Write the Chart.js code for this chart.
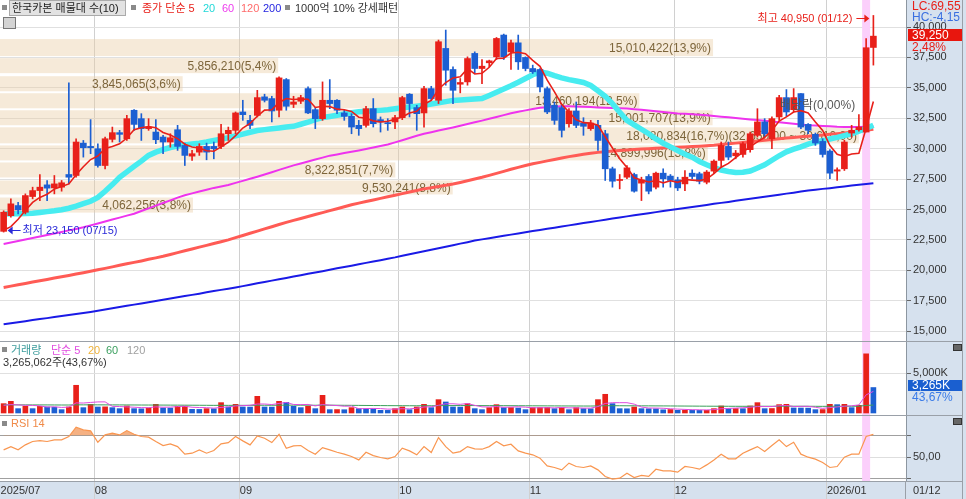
<!DOCTYPE html>
<html lang="ko">
<head>
<meta charset="utf-8">
<title>한국카본 일봉</title>
<script src="https://cdn.jsdelivr.net/npm/chart.js@4.4.1/dist/chart.umd.min.js"></script>
<style>
  html, body { margin: 0; padding: 0; }
  body { width: 966px; height: 499px; overflow: hidden; position: relative; background: #d6e1ee;
         font-family: "Liberation Sans", "Noto Sans CJK KR", sans-serif; }
  canvas { position: absolute; left: 0; }
  .t { position: absolute; white-space: nowrap; font-size: 11px; line-height: 12px; }
  .sq { position: absolute; width: 5px; height: 5px; background: #8a8a8a; }
  .hr { position: absolute; left: 0; width: 963px; height: 1px; background: #9aa0a8; }
  .ico { position: absolute; width: 7px; height: 5px; background: #666; border: 1px solid #333; }
</style>
</head>
<body>
<canvas id="price" width="966" height="341" style="top:0"></canvas>
<canvas id="vol" width="966" height="74" style="top:341px"></canvas>
<canvas id="rsi" width="966" height="84" style="top:415px"></canvas>

<div class="hr" style="top:341px"></div>
<div class="hr" style="top:415px"></div>
<div class="hr" style="top:481px"></div>
<div style="position:absolute;left:962px;top:0;width:1px;height:499px;background:#9aa0a8"></div>

<!-- price legend -->
<div class="sq" style="left:2px;top:5px"></div>
<div class="t" style="left:9px;top:0;width:113px;height:14px;line-height:14px;padding-left:2px;background:#e2e2e2;border:1px solid #aaa;color:#222">한국카본 매물대 수(10)</div>
<div class="sq" style="left:131px;top:5px"></div>
<div class="t" style="left:142px;top:2px;color:#e8201a">종가 단순 5</div>
<div class="t" style="left:203px;top:2px;color:#22d8d8">20</div>
<div class="t" style="left:222px;top:2px;color:#ee3cee">60</div>
<div class="t" style="left:241px;top:2px;color:#ff6a6a">120</div>
<div class="t" style="left:263px;top:2px;color:#2525e0">200</div>
<div class="sq" style="left:285px;top:5px"></div>
<div class="t" style="left:295px;top:2px;color:#333">1000억 10% 강세패턴</div>
<div style="position:absolute;left:3px;top:17px;width:11px;height:10px;border:1px solid #777;background:#d4d4d4"></div>
<div class="t" style="left:780px;top:99px;font-size:12px;color:#555">배당락(0,00%)</div>

<!-- volume legend -->
<div class="sq" style="left:2px;top:347px"></div>
<div class="t" style="left:11px;top:344px;color:#3c9c9c">거래량</div>
<div class="t" style="left:51px;top:344px;color:#e04ce0">단순 5</div>
<div class="t" style="left:88px;top:344px;color:#f0b43c">20</div>
<div class="t" style="left:106px;top:344px;color:#3ca060">60</div>
<div class="t" style="left:127px;top:344px;color:#a0a0a0">120</div>
<div class="t" style="left:3px;top:356px;color:#333">3,265,062주(<span id="volPct1"></span>%)</div>

<!-- rsi legend -->
<div class="sq" style="left:2px;top:421px"></div>
<div class="t" style="left:11px;top:417px;color:#f08a48">RSI 14</div>

<!-- right axis notes -->
<div class="t" style="left:912px;top:0;font-size:12px;color:#e8201a">LC:69,55</div>
<div class="t" style="left:912px;top:11px;font-size:12px;color:#3a6fe0">HC:-4,15</div>
<div class="t" id="lastPrice" style="left:908px;top:29px;width:50px;height:12px;padding-left:4px;font-size:12px;background:#e8160e;color:#fff"></div>
<div class="t" id="lastChg" style="left:912px;top:41px;font-size:12px;color:#e8201a"></div>
<div class="t" id="lastVol" style="left:908px;top:380px;width:50px;height:11px;line-height:11px;padding-left:4px;font-size:12px;background:#1a5fd0;color:#fff"></div>
<div class="t" id="volPct2" style="left:912px;top:391px;font-size:12px;color:#3a7be8"></div>
<div class="t" style="left:913px;top:484px;color:#333">01/12</div>
<div style="position:absolute;left:905px;top:481px;width:1px;height:18px;background:#9aa0a8"></div>
<div class="ico" style="left:953px;top:344px"></div>
<div class="ico" style="left:953px;top:418px"></div>

<script>
// --- Data ---
const dates = [
  '2025/07/15','2025/07/16','2025/07/17','2025/07/18','2025/07/21','2025/07/22','2025/07/23','2025/07/24','2025/07/25','2025/07/28','2025/07/29','2025/07/30','2025/07/31',
  '2025/08/01','2025/08/04','2025/08/05','2025/08/06','2025/08/07','2025/08/08','2025/08/11','2025/08/12','2025/08/13','2025/08/14','2025/08/18','2025/08/19','2025/08/20','2025/08/21','2025/08/22','2025/08/25','2025/08/26','2025/08/27','2025/08/28','2025/08/29',
  '2025/09/01','2025/09/02','2025/09/03','2025/09/04','2025/09/05','2025/09/08','2025/09/09','2025/09/10','2025/09/11','2025/09/12','2025/09/15','2025/09/16','2025/09/17','2025/09/18','2025/09/19','2025/09/22','2025/09/23','2025/09/24','2025/09/25','2025/09/26','2025/09/29','2025/09/30',
  '2025/10/01','2025/10/02','2025/10/10','2025/10/13','2025/10/14','2025/10/15','2025/10/16','2025/10/17','2025/10/20','2025/10/21','2025/10/22','2025/10/23','2025/10/24','2025/10/27','2025/10/28','2025/10/29','2025/10/30','2025/10/31',
  '2025/11/03','2025/11/04','2025/11/05','2025/11/06','2025/11/07','2025/11/10','2025/11/11','2025/11/12','2025/11/13','2025/11/14','2025/11/17','2025/11/18','2025/11/19','2025/11/20','2025/11/21','2025/11/24','2025/11/25','2025/11/26','2025/11/27','2025/11/28',
  '2025/12/01','2025/12/02','2025/12/03','2025/12/04','2025/12/05','2025/12/08','2025/12/09','2025/12/10','2025/12/11','2025/12/12','2025/12/15','2025/12/16','2025/12/17','2025/12/18','2025/12/19','2025/12/22','2025/12/23','2025/12/24','2025/12/26','2025/12/29','2025/12/30',
  '2026/01/02','2026/01/05','2026/01/06','2026/01/07','2026/01/08','2026/01/09','2026/01/12'
];

const open = [
  23210, 24500, 25330, 24780, 26070, 26560, 27030, 26780, 26840, 27880,
  27800, 30460, 30190, 30000, 28620, 30770, 31320, 30820, 33160, 32470,
  31650, 31370, 30960, 30550, 31560, 30270, 29390, 29720, 30190, 30190,
  30190, 31230, 31510, 33020, 32330, 32740, 34260, 34120, 33160, 35680,
  33650, 33900, 34940, 33210, 32470, 33980, 33980, 32940, 32660, 31920,
  31920, 33290, 32390, 32140, 32200, 32550, 34480, 33380, 32940, 34940,
  33980, 38240, 36510, 35300, 35490, 37830, 36590, 37060, 37550, 39340,
  37960, 38700, 37500, 36590, 36510, 34940, 33570, 33380, 32060, 33100,
  32110, 31650, 31920, 31230, 28350, 27390, 27660, 27880, 27170, 27720,
  26840, 27990, 27750, 27440, 27110, 27990, 27940, 27250, 28160, 29040,
  30190, 29420, 29530, 29920, 31100, 32200, 30820, 32610, 34200, 33210,
  34530, 32000, 31180, 30600, 29810, 28160, 28350, 31290, 31560, 31370,
  38320
];
const high = [
  24900, 25880, 25600, 26290, 26840, 27880, 27390, 27800, 27390, 35410,
  30820, 30680, 32390, 30410, 30960, 31780, 31510, 32740, 33210, 32880,
  32470, 32390, 31100, 31230, 31920, 30460, 29860, 30410, 30460, 30550,
  32000, 31780, 33020, 33980, 32740, 34800, 34480, 34310, 35900, 35770,
  34310, 34390, 35080, 33380, 35490, 35680, 34040, 33160, 32880, 32330,
  33490, 34120, 32610, 32470, 32740, 34310, 34530, 33570, 35130, 35130,
  38930, 39750, 36730, 35770, 37550, 37960, 37330, 37280, 39140, 39420,
  38930, 39340, 37550, 36870, 36590, 35080, 33840, 33570, 33290, 33840,
  32550, 32330, 32330, 31510, 28490, 27880, 28620, 27990, 27660, 27880,
  28070, 28350, 27880, 27660, 28210, 28270, 28070, 28210, 29090, 30550,
  30550, 29860, 30550, 31370, 33290, 32470, 32610, 34390, 34860, 34940,
  34530, 32060, 31290, 30820, 29920, 28430, 30690, 31920, 32800, 39060,
  40950
];
const low = [
  23150, 24370, 24640, 24640, 25880, 25740, 25740, 26290, 26510, 27110,
  27660, 29310, 29590, 28490, 28350, 30550, 30550, 30680, 31510, 30680,
  31510, 30410, 29590, 30130, 29860, 28620, 29040, 29450, 29090, 29170,
  30000, 30680, 31230, 32330, 31650, 32610, 33840, 32200, 32610, 33160,
  33380, 33710, 32880, 31650, 32330, 33290, 32880, 32330, 31230, 31100,
  31780, 31780, 31370, 31510, 31650, 32390, 32610, 31510, 31780, 33980,
  33710, 35220, 33710, 34590, 35220, 36180, 35350, 36730, 37330, 37330,
  36510, 36510, 36400, 36180, 34670, 32880, 32000, 30960, 31780, 31730,
  31100, 31510, 29860, 27390, 26840, 26700, 27530, 26430, 25740, 26290,
  26700, 26840, 26840, 26560, 26560, 27530, 27110, 27110, 27940, 28490,
  29090, 29170, 29310, 29720, 30960, 30960, 30000, 32330, 32660, 33020,
  31650, 31230, 30270, 29310, 27530, 27390, 28210, 30960, 31450, 31370,
  36870
];
const close = [
  24780, 25470, 24970, 26150, 26560, 26840, 26760, 27110, 27200, 27660,
  30550, 30080, 30080, 28620, 30820, 31320, 31180, 32470, 32000, 31650,
  31780, 30740, 30550, 30900, 30190, 29450, 29590, 30190, 29720, 30000,
  31230, 31510, 32940, 32800, 31920, 34200, 33980, 33100, 35820, 33490,
  33840, 34200, 32940, 32470, 33980, 33710, 33160, 32660, 31780, 31650,
  33290, 32060, 32200, 32060, 32550, 34200, 33710, 32880, 34940, 34120,
  38790, 36450, 34800, 35440, 37410, 36590, 36780, 37220, 39060, 37550,
  38700, 37140, 36590, 36320, 35080, 33020, 32330, 31510, 33100, 31920,
  31840, 32110, 30680, 28350, 27330, 27440, 28430, 26510, 27440, 26510,
  27990, 27530, 27390, 26780, 27660, 27720, 27330, 28080, 28980, 30270,
  29310, 29640, 30410, 31230, 32200, 31230, 32470, 34200, 33020, 34200,
  31780, 31510, 30470, 29530, 27990, 28270, 30550, 31510, 31780, 38300,
  39250
];

// moving averages
const ma5 = [
  23300, 23600, 24200, 24930, 25590, 26000, 26260, 26680, 26890, 27110,
  27860, 28520, 29110, 29400, 30030, 30180, 30400, 30880, 31560, 31720,
  31820, 31730, 31340, 31120, 30830, 30370, 30140, 30060, 29830, 29790,
  30150, 30530, 31080, 31700, 32080, 32670, 33170, 33200, 33800, 34120,
  34050, 34090, 34060, 33390, 33490, 33460, 33250, 33200, 33060, 32590,
  32510, 32290, 32200, 32250, 32430, 32610, 32940, 33080, 33660, 33970,
  34890, 35440, 35820, 35920, 36580, 36140, 36200, 36690, 37410, 37440,
  37860, 37930, 37810, 37260, 36770, 35630, 34670, 33650, 33010, 32380,
  32140, 32100, 31930, 30980, 30060, 29180, 28450, 27610, 27430, 27270,
  27380, 27200, 27370, 27240, 27470, 27420, 27380, 27510, 27950, 28480,
  28790, 29260, 29720, 30170, 30560, 30940, 31510, 32270, 32620, 33020,
  33130, 32940, 32200, 31500, 30260, 29550, 29360, 29570, 29620, 31680,
  33880
];
const ma20 = [
  24640, 24650, 24660, 24680, 24700, 24760, 24830, 24900, 24990, 25110,
  25280, 25480, 25680, 26000, 26500, 27050, 27650, 28100, 28550, 28980,
  29450, 29720, 29920, 30100, 30220, 30310, 30390, 30460, 30560, 30680,
  30790, 30900, 31050, 31200, 31350, 31500, 31570, 31640, 31710, 31780,
  31840, 32010, 32190, 32380, 32560, 32650, 32750, 32850, 32960, 33030,
  33070, 33110, 33150, 33200, 33280, 33360, 33430, 33500, 33570, 33670,
  33770, 33870, 33970, 34010, 34040, 34080, 34130, 34380, 34640, 34900,
  35170, 35460, 35770, 36080, 36300, 36200, 36000, 35820, 35680, 35560,
  35440, 35200, 34760, 34300, 33700, 33000, 32330, 31960, 31600, 31230,
  30800, 30450, 30150, 29850, 29550, 29300, 28950, 28680, 28450, 28250,
  28130, 28040, 28060, 28170, 28420, 28680, 29050, 29420, 29740, 29960,
  30150, 30380, 30550, 30660, 30800, 30930, 31080, 31230, 31440, 31660,
  31920
];
const ma60 = [
  22170, 22290, 22410, 22540, 22660, 22790, 22910, 23040, 23160, 23290,
  23410, 23540, 23700, 23860, 24020, 24180, 24340, 24500, 24660, 24880,
  25100, 25320, 25540, 25760, 25980, 26180, 26330, 26480, 26630, 26780,
  26900, 27020, 27190, 27360, 27530, 27700, 27880, 28070, 28260, 28450,
  28630, 28790, 28950, 29110, 29270, 29430, 29530, 29640, 29750, 29860,
  29980, 30100, 30220, 30340, 30520, 30700, 30880, 31060, 31230, 31360,
  31490, 31620, 31750, 31890, 32030, 32170, 32310, 32460, 32610, 32760,
  32910, 33040, 33150, 33260, 33360, 33410, 33450, 33480, 33480, 33460,
  33440, 33420, 33390, 33370, 33350, 33320, 33300, 33250, 33200, 33140,
  33080, 33020, 32960, 32900, 32870, 32830, 32790, 32750, 32690, 32630,
  32580, 32520, 32470, 32410, 32350, 32290, 32230, 32170, 32110, 32050,
  31990, 31930, 31900, 31870, 31840, 31800, 31780, 31780, 31790, 31810,
  31840
];
const ma120 = [
  18600, 18710, 18820, 18930, 19040, 19150, 19260, 19370, 19480, 19590,
  19700, 19810, 19930, 20050, 20170, 20290, 20420, 20540, 20660, 20780,
  20910, 21030, 21160, 21310, 21460, 21610, 21760, 21910, 22060, 22210,
  22360, 22510, 22690, 22870, 23050, 23230, 23410, 23590, 23770, 23950,
  24110, 24270, 24430, 24590, 24750, 24910, 25070, 25230, 25390, 25530,
  25660, 25790, 25920, 26050, 26180, 26310, 26440, 26570, 26700, 26800,
  26900, 27000, 27100, 27230, 27370, 27510, 27650, 27810, 27970, 28140,
  28310, 28470, 28620, 28760, 28880, 29000, 29120, 29240, 29350, 29450,
  29540, 29620, 29700, 29760, 29820, 29860, 29900, 29940, 29970, 30000,
  30030, 30060, 30090, 30120, 30150, 30180, 30210, 30240, 30280, 30340,
  30400, 30460, 30520, 30580, 30640, 30700, 30760, 30820, 30880, 30930,
  30980, 31030, 31080, 31130, 31180, 31240, 31300, 31360, 31430, 31510,
  31590
];
const ma200 = [
  15580, 15660, 15750, 15830, 15920, 16000, 16080, 16170, 16250, 16340,
  16420, 16500, 16590, 16690, 16790, 16890, 16990, 17090, 17190, 17290,
  17390, 17490, 17590, 17690, 17790, 17890, 17990, 18090, 18200, 18300,
  18400, 18500, 18600, 18710, 18820, 18940, 19050, 19160, 19270, 19380,
  19500, 19610, 19720, 19830, 19940, 20060, 20170, 20280, 20390, 20510,
  20620, 20730, 20840, 20960, 21070, 21200, 21320, 21450, 21570, 21700,
  21820, 21950, 22070, 22200, 22320, 22450, 22550, 22640, 22740, 22840,
  22940, 23030, 23130, 23230, 23320, 23420, 23510, 23610, 23700, 23790,
  23890, 23980, 24070, 24160, 24260, 24350, 24440, 24530, 24610, 24700,
  24790, 24880, 24960, 25050, 25130, 25220, 25300, 25380, 25470, 25550,
  25630, 25720, 25800, 25880, 25970, 26050, 26140, 26220, 26310, 26390,
  26480, 26560, 26630, 26700, 26760, 26830, 26900, 26970, 27040, 27100,
  27170
];

// volume in thousand shares
const volume = [
  1250, 1540, 625, 917, 625, 917, 834, 800, 500, 834,
  3545, 750, 1168, 834, 850, 750, 625, 960, 625, 600,
  710, 1168, 710, 700, 917, 930, 540, 530, 625, 610,
  1376, 834, 1168, 834, 820, 2168, 834, 820, 1543, 1418,
  917, 750, 917, 625, 2293, 500, 510, 490, 750, 625,
  600, 580, 417, 410, 625, 834, 500, 834, 1168, 750,
  1751, 1460, 834, 820, 1250, 625, 500, 750, 1126, 750,
  760, 700, 500, 750, 760, 770, 625, 750, 500, 750,
  625, 610, 1751, 2419, 1250, 625, 610, 834, 625, 610,
  600, 480, 520, 417, 430, 420, 410, 420, 625, 960,
  625, 640, 620, 960, 1376, 625, 640, 1126, 1168, 710,
  700, 690, 500, 510, 1168, 1126, 1168, 750, 1042, 7477,
  3265
];
const volMa5 = [
  1000, 1100, 1050, 1000, 991, 925, 784, 819, 735, 777,
  1303, 1286, 1359, 1426, 1429, 870, 845, 804, 762, 712,
  704, 813, 763, 778, 841, 885, 759, 723, 708, 647,
  736, 795, 923, 964, 1006, 1165, 1165, 1095, 1237, 1357,
  1106, 1090, 1109, 925, 1100, 1017, 969, 884, 909, 575,
  595, 609, 594, 526, 526, 573, 557, 641, 792, 817,
  1001, 1193, 1193, 1123, 1223, 998, 806, 789, 850, 750,
  777, 817, 767, 692, 694, 696, 681, 731, 681, 679,
  650, 647, 847, 1231, 1331, 1331, 1331, 1148, 789, 661,
  656, 630, 567, 525, 489, 453, 439, 419, 461, 567,
  608, 654, 694, 761, 844, 844, 844, 945, 987, 854,
  869, 879, 754, 622, 714, 799, 894, 944, 1051, 2313,
  2740
];
const volMa60 = [
  1060, 1060, 1055, 1055, 1050, 1050, 1048, 1045, 1040, 1040,
  1060, 1058, 1060, 1058, 1056, 1052, 1048, 1046, 1042, 1038,
  1035, 1035, 1030, 1026, 1022, 1018, 1012, 1006, 1000, 995,
  998, 995, 998, 996, 994, 1010, 1008, 1006, 1015, 1022,
  1020, 1016, 1014, 1008, 1025, 1018, 1010, 1002, 998, 990,
  982, 975, 968, 960, 955, 952, 948, 946, 948, 946,
  958, 965, 966, 968, 972, 968, 962, 958, 960, 956,
  952, 948, 944, 940, 936, 932, 928, 924, 920, 916,
  912, 910, 925, 945, 952, 948, 944, 942, 938, 934,
  930, 925, 920, 914, 908, 902, 896, 890, 886, 884,
  880, 878, 876, 878, 884, 882, 880, 884, 888, 886,
  884, 880, 876, 872, 876, 880, 884, 882, 886, 990,
  1030
];

const rsi = [
  56.8, 59.8, 56.8, 61.4, 64.5, 65.4, 64.5, 66.0, 66.0, 69.1,
  77.7, 75.2, 74.3, 63.8, 70.6, 72.2, 70.6, 74.6, 71.2, 69.1,
  68.5, 64.5, 60.8, 62.3, 59.8, 52.8, 53.7, 56.8, 53.7, 56.2,
  62.3, 63.5, 69.1, 65.1, 61.4, 69.7, 67.5, 63.5, 71.2, 58.3,
  60.5, 60.8, 56.2, 52.8, 58.9, 56.8, 54.6, 52.8, 50.6, 47.5,
  54.6, 51.5, 49.7, 48.5, 50.6, 58.3, 55.8, 52.2, 59.8, 54.3,
  68.2, 59.8, 53.7, 55.2, 59.8, 57.7, 57.4, 59.8, 64.5, 60.5,
  62.0, 55.8, 53.7, 52.2, 49.1, 42.0, 40.5, 38.3, 44.5, 41.4,
  40.5, 42.0, 38.3, 32.2, 29.7, 30.6, 35.2, 31.2, 33.1, 32.2,
  38.9, 37.4, 37.4, 36.2, 41.4, 40.5, 38.9, 42.9, 47.5, 52.8,
  48.5, 48.5, 53.7, 56.8, 59.8, 55.2, 60.8, 66.0, 59.8, 63.8,
  52.8, 50.0, 48.2, 45.1, 40.5, 41.4, 50.0, 52.8, 52.8, 69.1,
  71.2
];

// price-volume bands (매물대), top to bottom
const bandHigh = [39010, 37440, 35960, 34560, 33160, 31760, 30270, 28870, 27390, 25990];
const bandLow = [37610, 36210, 34720, 33320, 31930, 30440, 29040, 27640, 26240, 24750];
const bandVolume = [15010422, 5856210, 3845065, 13460194, 15001707, 18080834, 14899996, 8322851, 9530241, 4062256];
const peakRange = [32650, 30610];

const priceTicks = [15000, 17500, 20000, 22500, 25000, 27500, 30000, 32500, 35000, 37500, 40000];
const volTicks = [5000];
const rsiTicks = [30, 50, 70];
const markDate = '2026/01/09';

// --- Helpers ---
const fmt = v => Math.round(v).toLocaleString('en-US');
const dec = (v, d) => {
  const [i, f] = v.toFixed(d).split('.');
  return Number(i).toLocaleString('en-US') + (f ? ',' + f : '');
};

const labels = dates.concat(['', '', '', '']);
const markIndex = dates.indexOf(markDate);
const monthStarts = [];
for (let i = 1; i < dates.length; i++) {
  if (dates[i].slice(5, 7) !== dates[i - 1].slice(5, 7)) monthStarts.push(i);
}
const monthLine = c => monthStarts.includes(c.index) ? '#d0d0d0' : 'rgba(0,0,0,0)';
const monthLabel = i => {
  if (i >= dates.length) return '';
  if (i !== 0 && !monthStarts.includes(i)) return '';
  const mm = dates[i].slice(5, 7);
  return (i === 0 || mm === '01') ? dates[i].slice(0, 7) : mm;
};

const upColor = '#e8201a', downColor = '#1c5fd2';
const candleColor = close.map((c, i) => c >= open[i] ? upColor : downColor);
const volColor = volume.map((v, i) => (i === 0 || v > volume[i - 1]) ? upColor : downColor);

Chart.defaults.font.family = '"Liberation Sans", "Noto Sans CJK KR", sans-serif';
Chart.defaults.font.size = 11;
Chart.defaults.color = '#333';

// --- Plugins ---
const panelBg = {
  id: 'panelBg',
  beforeDraw(chart) {
    const { ctx, chartArea: a } = chart;
    ctx.save();
    ctx.fillStyle = '#fff';
    ctx.fillRect(a.left, a.top, a.right - a.left, a.bottom - a.top);
    ctx.restore();
  }
};

const profileBands = {
  id: 'profileBands',
  beforeDatasetsDraw(chart) {
    const { ctx, chartArea: a, scales: { y } } = chart;
    const maxVol = Math.max(...bandVolume);
    const total = bandVolume.reduce((s, v) => s + v, 0);
    ctx.save();
    ctx.font = '12px "Liberation Sans", sans-serif';
    ctx.textAlign = 'right';
    ctx.textBaseline = 'middle';
    bandVolume.forEach((v, i) => {
      const top = y.getPixelForValue(bandHigh[i]);
      const bot = y.getPixelForValue(bandLow[i]);
      const w = (a.right - a.left) * 0.948 * v / maxVol;
      ctx.fillStyle = 'rgba(233,204,164,0.42)';
      ctx.fillRect(a.left, top, w, bot - top);
      let txt = fmt(v) + '(' + dec(v / total * 100, 1) + '%)';
      if (v === maxVol) txt += '(' + dec(peakRange[0], 2) + ' ~ ' + dec(peakRange[1], 2) + ')';
      ctx.fillStyle = '#7d653a';
      ctx.fillText(txt, a.left + w - 2, (top + bot) / 2 + 1);
    });
    ctx.restore();
  }
};

const markColumn = {
  id: 'markColumn',
  beforeDatasetsDraw(chart) {
    const { ctx, chartArea: a, scales: { x } } = chart;
    const cx = x.getPixelForValue(markIndex);
    ctx.save();
    ctx.fillStyle = '#fbcffb';
    ctx.fillRect(cx - 4, a.top, 8, a.bottom - a.top);
    ctx.restore();
  }
};

const extremes = {
  id: 'extremes',
  afterDatasetsDraw(chart) {
    const { ctx, scales: { x, y } } = chart;
    const hi = Math.max(...high), hiIdx = high.indexOf(hi);
    const lo = Math.min(...low), loIdx = low.indexOf(lo);
    ctx.save();
    ctx.font = '11px "Liberation Sans", "Noto Sans CJK KR", sans-serif';
    ctx.textBaseline = 'middle';
    ctx.lineWidth = 1;

    // highest
    let px = x.getPixelForValue(hiIdx) - 4, py = Math.round(y.getPixelForValue(hi)) + 3.5;
    ctx.fillStyle = ctx.strokeStyle = '#e8201a';
    ctx.beginPath(); ctx.moveTo(px - 13, py); ctx.lineTo(px - 3, py); ctx.stroke();
    ctx.beginPath(); ctx.moveTo(px, py); ctx.lineTo(px - 5, py - 4); ctx.lineTo(px - 5, py + 4); ctx.closePath(); ctx.fill();
    ctx.textAlign = 'right';
    ctx.fillText('최고 ' + fmt(hi) + ' (' + dates[hiIdx].slice(5) + ')', px - 17, py);

    // lowest
    px = x.getPixelForValue(loIdx) + 4; py = Math.round(y.getPixelForValue(lo)) - 1.5;
    ctx.fillStyle = ctx.strokeStyle = '#2a2ad8';
    ctx.beginPath(); ctx.moveTo(px, py); ctx.lineTo(px + 5, py - 4); ctx.lineTo(px + 5, py + 4); ctx.closePath(); ctx.fill();
    ctx.beginPath(); ctx.moveTo(px + 3, py); ctx.lineTo(px + 13, py); ctx.stroke();
    ctx.textAlign = 'left';
    ctx.fillText('최저 ' + fmt(lo) + ' (' + dates[loIdx].slice(5) + ')', px + 15, py);
    ctx.restore();
  }
};

// --- Shared axis pieces ---
const hiddenX = {
  offset: true,
  grid: { offset: true, color: monthLine, drawTicks: false },
  ticks: { display: false },
  border: { display: false },
  afterFit: s => { s.height = 0; s.paddingLeft = 0; s.paddingRight = 0; }
};
const rightY = (min, max, ticks, label, gridColor) => ({
  position: 'right',
  min, max,
  afterBuildTicks: ax => { ax.ticks = ticks.map(v => ({ value: v })); },
  ticks: { callback: label, padding: 2, color: '#333', font: { size: 11 } },
  grid: { color: gridColor, tickLength: 5, tickColor: '#666' },
  border: { color: '#8c96a0' },
  afterFit: s => { s.width = 60; s.paddingTop = 0; s.paddingBottom = 0; }
});
const baseOptions = {
  responsive: false,
  animation: false,
  events: [],
  layout: { padding: 0 },
  plugins: { legend: { display: false }, tooltip: { enabled: false } }
};
const maLine = (data, color, width, order) => ({
  type: 'line', data, borderColor: color, borderWidth: width,
  pointRadius: 0, fill: false, tension: 0, order
});

// --- Price chart ---
new Chart(document.getElementById('price'), {
  type: 'bar',
  data: {
    labels,
    datasets: [
      maLine(ma5, '#e8201a', 1.6, 0),
      {
        data: open.map((o, i) => [o, close[i]]),
        backgroundColor: candleColor, barThickness: 6, minBarLength: 1,
        grouped: false, order: 1
      },
      {
        data: low.map((l, i) => [l, high[i]]),
        backgroundColor: candleColor, barThickness: 1,
        grouped: false, order: 2
      },
      maLine(ma20, '#47ecf0', 5.5, 3),
      maLine(ma60, '#ee33ee', 2, 4),
      maLine(ma120, '#ff5b55', 3, 5),
      maLine(ma200, '#1a1ae6', 2, 6)
    ]
  },
  options: {
    ...baseOptions,
    scales: {
      x: hiddenX,
      y: rightY(14200, 42220, priceTicks, v => fmt(v), '#e0e0e0')
    }
  },
  plugins: [panelBg, profileBands, markColumn, extremes]
});

// --- Volume chart ---
new Chart(document.getElementById('vol'), {
  type: 'bar',
  data: {
    labels,
    datasets: [
      maLine(volMa5, '#e04ce0', 1, 0),
      maLine(volMa60, '#3aa05a', 1, 1),
      {
        data: volume, backgroundColor: volColor,
        categoryPercentage: 1, barPercentage: 0.78, order: 2
      }
    ]
  },
  options: {
    ...baseOptions,
    scales: {
      x: hiddenX,
      y: rightY(-210, 9040, volTicks, v => fmt(v) + 'K', '#e0e0e0')
    }
  },
  plugins: [panelBg, markColumn]
});

// --- RSI chart ---
new Chart(document.getElementById('rsi'), {
  type: 'line',
  data: {
    labels,
    datasets: [{
      data: rsi, borderColor: '#f99650', borderWidth: 1.2, pointRadius: 0, tension: 0,
      fill: { target: { value: 70 }, above: 'rgba(240,135,65,0.65)', below: 'rgba(0,0,0,0)' }
    }]
  },
  options: {
    ...baseOptions,
    scales: {
      x: {
        offset: true,
        grid: { offset: true, color: monthLine, tickColor: monthLine, tickLength: 18, drawTicks: true },
        border: { display: true, color: '#9aa0a8' },
        ticks: {
          autoSkip: false, maxRotation: 0, align: 'start', labelOffset: -3, padding: -15,
          color: '#333', font: { size: 11 }, callback: (v, i) => monthLabel(i)
        },
        afterFit: s => { s.height = 18; s.paddingLeft = 0; s.paddingRight = 0; }
      },
      y: rightY(28, 89, rsiTicks, v => v === 50 ? dec(v, 2) : '', c => c.tick && c.tick.value === 50 ? '#dedede' : '#a0a0a0')
    }
  },
  plugins: [panelBg, markColumn]
});

// --- Right side notes from the data ---
const last = close.length - 1;
document.getElementById('lastPrice').textContent = fmt(close[last]);
document.getElementById('lastChg').textContent = dec((close[last] / close[last - 1] - 1) * 100, 2) + '%';
document.getElementById('lastVol').textContent = fmt(volume[last]) + 'K';
const vp = dec(volume[last] / volume[last - 1] * 100, 2);
document.getElementById('volPct1').textContent = vp;
document.getElementById('volPct2').textContent = vp + '%';
</script>
</body>
</html>
